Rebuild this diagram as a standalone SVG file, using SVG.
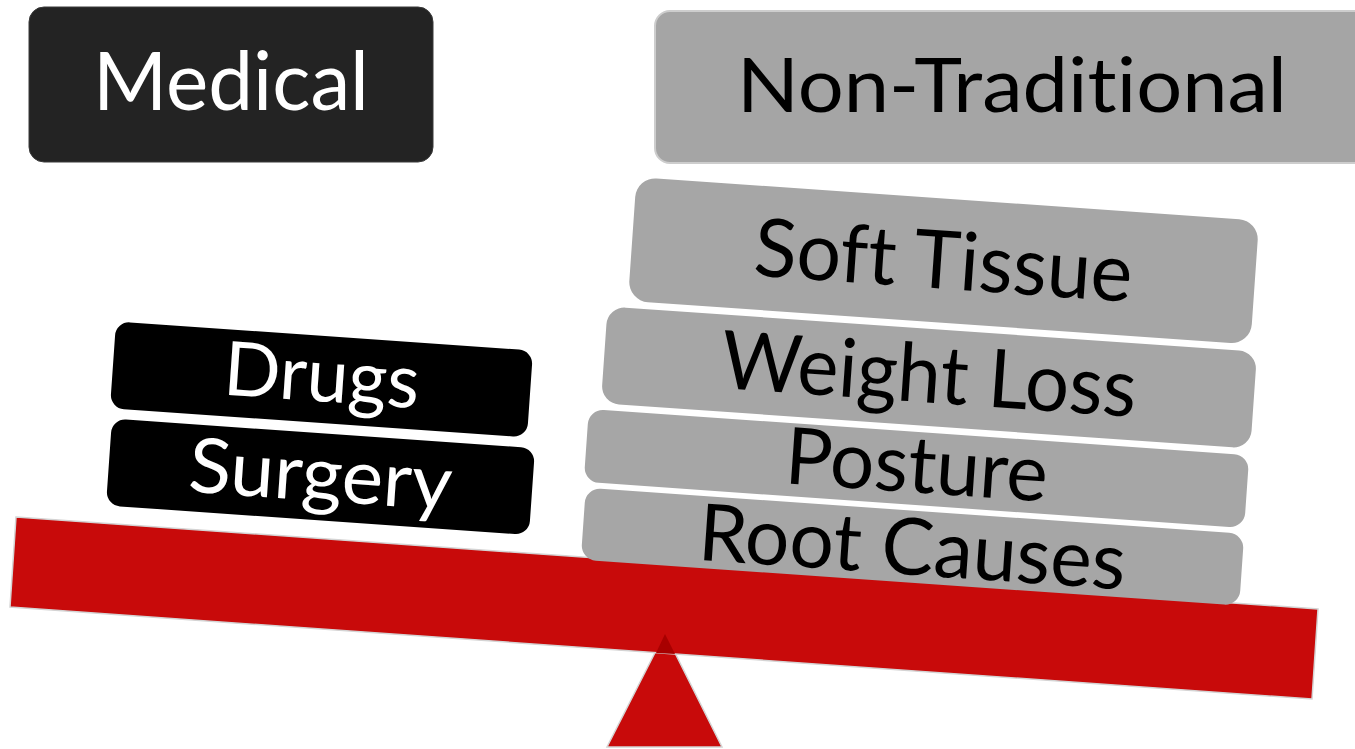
<svg xmlns="http://www.w3.org/2000/svg" width="1355" height="749" viewBox="0 0 1355 749">
  <style>
    .lbl { font-family: Lato, "Liberation Sans", sans-serif; text-anchor: middle; font-variant-ligatures: none; font-feature-settings: "liga" 0, "clig" 0; }
    .white { fill: #ffffff; }
    .black { fill: #000000; }
    .grey { fill: #a6a6a6; }
    .dark { fill: #000000; }
    .red { fill: #c80a0a; stroke: #d4d4d4; stroke-width: 1.5; }
  </style>
  <rect width="1355" height="749" fill="#ffffff"/>

  <g id="medical">
    <rect x="29" y="7" width="404" height="155" rx="15" fill="#232323" stroke="#3a3a3a" stroke-width="1"/>
    <text class="lbl white" x="231" y="110" font-size="82" textLength="276" lengthAdjust="spacingAndGlyphs">Medical</text>
  </g>

  <g id="non-traditional">
    <rect x="655" y="11" width="720" height="152" rx="15" fill="#a5a5a5" stroke="#cdcdcd" stroke-width="2"/>
    <text class="lbl black" x="1012" y="112" font-size="76" textLength="550" lengthAdjust="spacingAndGlyphs">Non-Traditional</text>
  </g>

  <g id="fulcrum">
    <polygon class="red" points="665,633 607,747 722,747"/>
  </g>

  <g id="beam">
    <polygon class="red" points="16,517 1318,609 1312,699 10,607"/>
    <polygon points="665,634 656,653 675,654" fill="#a80000"/>
  </g>

  <g id="drugs" transform="translate(321.5,379.4) rotate(4)">
    <rect class="dark" x="-209" y="-43.5" width="418" height="87" rx="14"/>
    <text class="lbl white" x="0" y="22" font-size="75" textLength="196" lengthAdjust="spacingAndGlyphs">Drugs</text>
  </g>

  <g id="surgery" transform="translate(320.5,476.8) rotate(4)">
    <rect class="dark" x="-212" y="-43.5" width="424" height="87" rx="14"/>
    <text class="lbl white" x="0" y="24" font-size="76" textLength="264" lengthAdjust="spacingAndGlyphs">Surgery</text>
  </g>

  <g id="soft-tissue" transform="translate(943.5,260.7) rotate(4)">
    <rect class="grey" x="-312" y="-62" width="624" height="124" rx="20"/>
    <text class="lbl black" x="0" y="28" font-size="81" textLength="379" lengthAdjust="spacingAndGlyphs">Soft Tissue</text>
  </g>

  <g id="weight-loss" transform="translate(929,377.5) rotate(4)">
    <rect class="grey" x="-325.5" y="-48.5" width="651" height="97" rx="18"/>
    <text class="lbl black" x="0" y="25" font-size="81" textLength="416" lengthAdjust="spacingAndGlyphs">Weight Loss</text>
  </g>

  <g id="posture" transform="translate(916.5,468.5) rotate(4)">
    <rect class="grey" x="-331" y="-36.5" width="662" height="73" rx="15"/>
    <text class="lbl black" x="0" y="24" font-size="79" textLength="263" lengthAdjust="spacingAndGlyphs">Posture</text>
  </g>

  <g id="root-causes" transform="translate(912.5,546.7) rotate(4)">
    <rect class="grey" x="-330" y="-36" width="660" height="72" rx="15"/>
    <text class="lbl black" x="0" y="28" font-size="79" textLength="428" lengthAdjust="spacingAndGlyphs">Root Causes</text>
  </g>

  <g id="connectors"/>
</svg>
